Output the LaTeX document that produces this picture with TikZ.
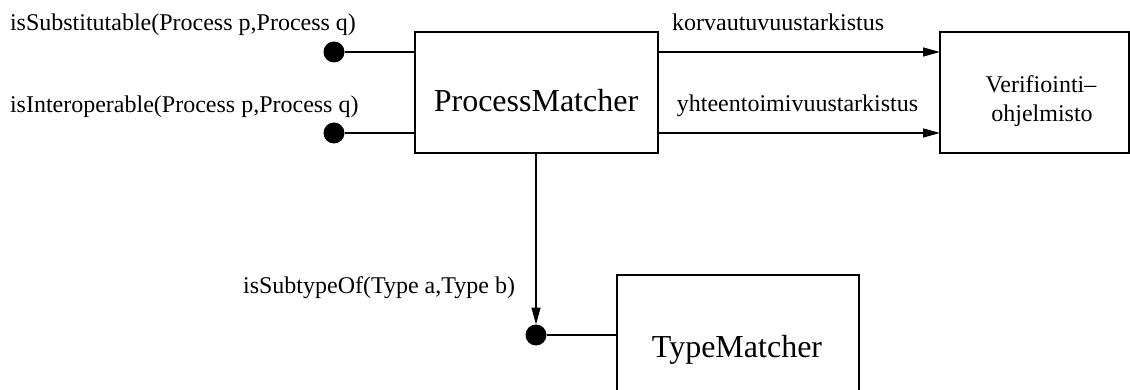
\documentclass[tikz,border=0pt]{standalone}
\usepackage{fontspec}
\setmainfont{Liberation Serif}
\usetikzlibrary{arrows.meta}
\begin{document}
\begin{tikzpicture}[x=1pt,y=-1pt,
  every node/.style={inner sep=0pt, outer sep=0pt},
  comp/.style={draw, line width=1.2pt, rectangle},
  port/.style={circle, fill=black, minimum size=21pt},
  wire/.style={line width=1.2pt},
  call/.style={wire, -{Triangle[length=17pt,width=9pt]}},
  small/.style={font=\fontsize{24}{29}\selectfont},
  big/.style={font=\fontsize{32}{38}\selectfont}]
\useasboundingbox (0,0) rectangle (1130,390);
\clip (0,0) rectangle (1130,390);

% components
\node[comp, minimum width=243pt, minimum height=121pt] (pm) at (536.5,92.5) {};
\node[comp, minimum width=189pt, minimum height=121pt] (ver) at (1034.5,92.5) {};
\node[comp, minimum width=242pt, minimum height=160pt] (tm) at (738,355) {};

\node[big, anchor=base] (pmtext) at (536,112) {ProcessMatcher};
\node[big, anchor=base] (tmtext) at (737,357) {TypeMatcher};
\node[small, anchor=base] (vertext1) at (1041,93) {Verifiointi--};
\node[small, anchor=base] (vertext2) at (1042,122) {ohjelmisto};

% provided interfaces
\node[port] (d1) at (334,52) {};
\node[port] (d2) at (334,133) {};
\node[port] (d3) at (536,335) {};

\node[small, anchor=base west] (l1) at (10,31) {isSubstitutable(Process p,Process q)};
\node[small, anchor=base west] (l2) at (10,113) {isInteroperable(Process p,Process q)};
\node[small, anchor=base east] (l3) at (515,293) {isSubtypeOf(Type a,Type b)};

\draw[wire] (d1) -- (d1 -| pm.west);
\draw[wire] (d2) -- (d2 -| pm.west);
\draw[wire] (d3) -- (d3 -| tm.west);

% required calls
\draw[call] (pm.east |- d1) -- (ver.west |- d1)
  node[small, pos=0.05, anchor=base west, yshift=21pt] (k1) {korvautuvuustarkistus};
\draw[call] (pm.east |- d2) -- (ver.west |- d2)
  node[small, pos=0.067, anchor=base west, yshift=21pt] (k2) {yhteentoimivuustarkistus};
\draw[call] (pm.south -| d3) -- (d3.north);
\end{tikzpicture}
\end{document}
